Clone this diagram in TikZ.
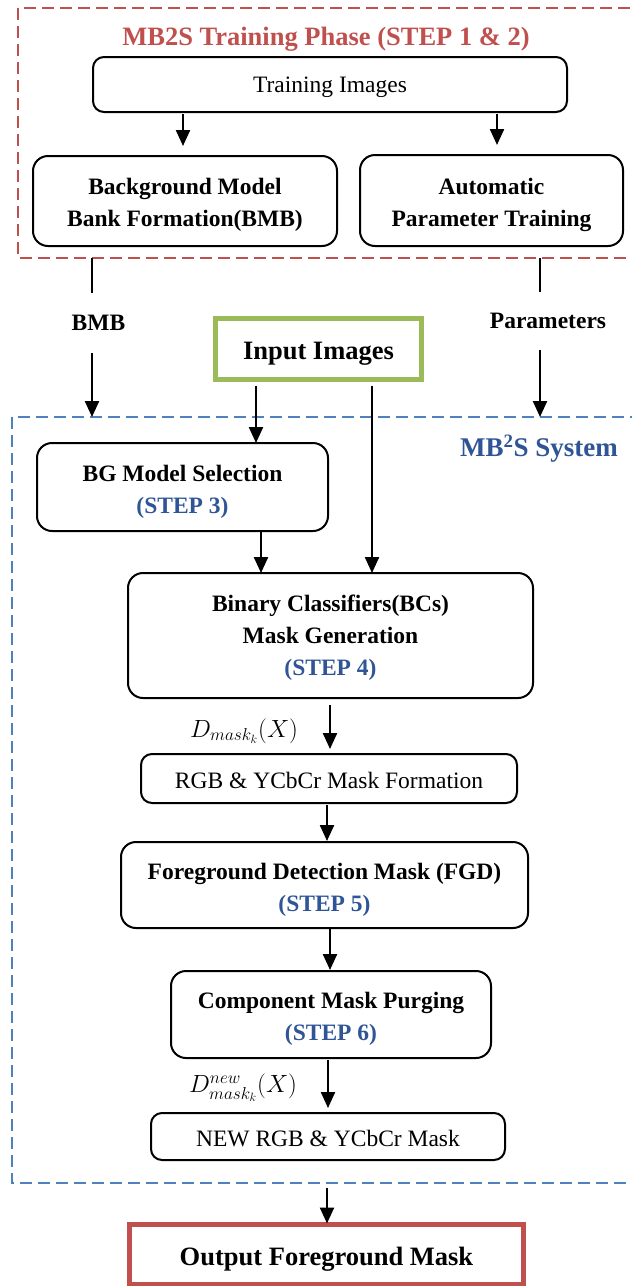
\documentclass[tikz,border=0pt]{standalone}
\usepackage{fontspec}
\setmainfont{Liberation Serif}
\usetikzlibrary{arrows.meta}
\definecolor{phasered}{RGB}{192,80,77}
\definecolor{sysblue}{RGB}{79,129,189}
\definecolor{stepblue}{RGB}{47,85,151}
\definecolor{inputgreen}{RGB}{155,187,89}
\newcommand{\stp}[1]{{\color{stepblue}#1}}
% a tall invisible strut in the first line lowers the text inside its box
\newcommand{\topstrut}[1]{\rule{0pt}{#1}}
\begin{document}
\begin{tikzpicture}[x=1pt,y=-1pt,
  every node/.style={inner sep=0pt, outer sep=0pt},
  body/.style={font=\fontsize{23.5}{31}\selectfont},
  boldbody/.style={font=\fontsize{23.5}{32}\selectfont\bfseries},
  procbox/.style={draw, line width=2pt, rounded corners=15pt, align=center},
  smallbox/.style={draw, line width=2pt, rounded corners=11pt, align=center},
  framebox/.style={line width=2.5pt, dash pattern=on 12pt off 6pt},
  conn/.style={line width=2.3pt},
  arrowconn/.style={line width=2.3pt, -{Triangle[length=16pt,width=14pt]}},
  lbl/.style={font=\fontsize{23.5}{28}\selectfont\bfseries},
  mathlbl/.style={font=\fontsize{23}{26}\selectfont}
]
\useasboundingbox (0,0) rectangle (632,1286);
\clip (0,0) rectangle (632,1286);

% ---------- training phase frame ----------
\draw[framebox, phasered] (18,8) rectangle (650,258);
\node[font=\fontsize{26.5}{30}\selectfont\bfseries, text=phasered] (title) at (326,39) {MB2S Training Phase (STEP 1 \& 2)};

\node[smallbox, body, minimum width=474pt, minimum height=55pt] (train) at (330,84.5) {\topstrut{21pt}Training Images};
\node[procbox, boldbody, minimum width=304pt, minimum height=90pt] (bmb) at (185,201) {\topstrut{24.5pt}Background Model\\Bank Formation(BMB)};
\node[procbox, boldbody, minimum width=263pt, minimum height=91pt] (apt) at (491.5,200.5) {\topstrut{24.5pt}Automatic\\Parameter Training};

\draw[arrowconn, shorten <=2pt, shorten >=10pt] (train.south -| 183,0) -- (bmb.north -| 183,0);
\draw[arrowconn, shorten <=2pt, shorten >=10pt] (train.south -| 497,0) -- (apt.north -| 497,0);

% ---------- system frame ----------
\draw[framebox, sysblue] (12,417) rectangle (650,1183);
\node[font=\fontsize{27}{30}\selectfont\bfseries, text=stepblue] (sysname) at (539,449) {MB\textsuperscript{2}S System};

% frame crossing points of the trained outputs
\coordinate (bmbout) at (92,258);
\coordinate (bmbin)  at (92,417);
\coordinate (parout) at (540,258);
\coordinate (parin)  at (540,417);
\coordinate (sysout) at (327,1183);

\node[lbl, minimum height=60pt] (bmblabel) at (98.5,323) {BMB};
\node[lbl, minimum height=58pt] (parlabel) at (548,321) {Parameters};

\draw[conn] (bmbout) -- (bmbout |- bmblabel.north);
\draw[arrowconn] (bmbout |- bmblabel.south) -- (bmbin);
\draw[conn] (parout) -- (parout |- parlabel.north);
\draw[arrowconn] (parout |- parlabel.south) -- (parin);

\node[draw=inputgreen, line width=5pt, minimum width=206pt, minimum height=61pt,
      font=\fontsize{26.5}{30}\selectfont\bfseries] (input) at (318.5,349) {\topstrut{26pt}Input Images};

\node[procbox, boldbody, minimum width=291pt, minimum height=88pt] (bgsel) at (182.5,487)
  {\topstrut{25pt}BG Model Selection\\\stp{(STEP 3)}};
\node[procbox, boldbody, minimum width=405pt, minimum height=125pt] (bcs) at (330.5,635.5)
  {\topstrut{21.5pt}Binary Classifiers(BCs)\\Mask Generation\\\stp{(STEP 4)}};
\node[smallbox, body, minimum width=376pt, minimum height=49pt] (rgb) at (329,778.5)
  {\topstrut{21pt}RGB \& YCbCr Mask Formation};
\node[procbox, boldbody, minimum width=407pt, minimum height=86pt] (fgd) at (324.5,885)
  {\topstrut{25pt}Foreground Detection Mask (FGD)\\\stp{(STEP 5)}};
\node[procbox, boldbody, minimum width=320pt, minimum height=87pt] (cmp) at (331,1014.5)
  {\topstrut{25.5pt}Component Mask Purging\\\stp{(STEP 6)}};
\node[smallbox, body, minimum width=354pt, minimum height=47pt] (newrgb) at (328,1136.5)
  {\topstrut{21pt}NEW RGB \& YCbCr Mask};

\node[draw=phasered, line width=5pt, minimum width=394pt, minimum height=60pt,
      font=\fontsize{26.5}{30}\selectfont\bfseries] (out) at (326.5,1254.5) {\topstrut{28pt}Output Foreground Mask};

% ---------- connectors ----------
\draw[arrowconn, shorten <=6pt] (input.south -| 256,0) -- (bgsel.north -| 256,0);
\draw[arrowconn, shorten <=6pt] (input.south -| 372,0) -- (bcs.north -| 372,0);
\draw[arrowconn] (bgsel.south -| 261,0) -- (bcs.north -| 261,0);
\draw[arrowconn, shorten <=7pt, shorten >=5pt] (bcs.south -| 330,0) -- (rgb.north -| 330,0);
\draw[arrowconn, shorten <=2pt, shorten >=1pt] (rgb.south -| 327,0) -- (fgd.north -| 327,0);
\draw[arrowconn, shorten >=1pt] (fgd.south -| 330,0) -- (cmp.north -| 330,0);
\draw[arrowconn, shorten <=2pt, shorten >=5pt] (cmp.south -| 328,0) -- (newrgb.north -| 328,0);
\draw[arrowconn, shorten <=5pt, shorten >=1pt] (sysout) -- (out.north -| sysout);

\node[mathlbl] (dmask) at (244,731) {$D_{mask_k}(X)$};
\node[mathlbl] (dnew) at (243,1088) {$D^{new}_{mask_k}(X)$};
\end{tikzpicture}
\end{document}
